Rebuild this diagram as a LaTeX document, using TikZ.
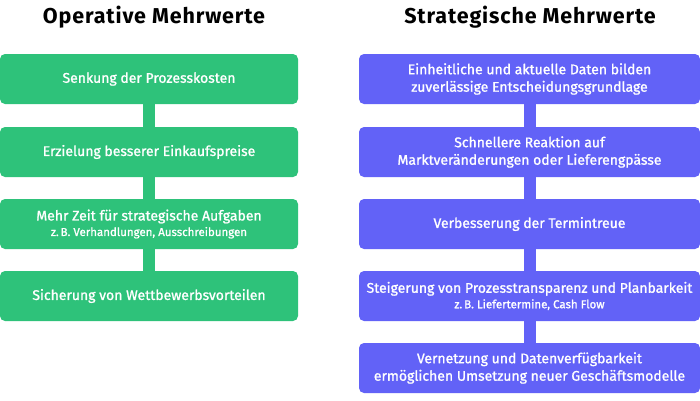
\documentclass[tikz,border=0pt]{standalone}
\usepackage{fontspec}
\setmainfont{Fira Sans}
\newfontfamily\medfont[FakeBold=1.2]{Fira Sans}
\newfontfamily\ttlfont[LetterSpace=4]{Fira Sans}
\begin{document}
\begin{tikzpicture}[x=1pt,y=-1pt,
  gbox/.style={fill=grn,rounded corners=5pt,minimum width=298pt,minimum height=50pt,text=white,align=center,font=\medfont\fontsize{14}{17.5}\selectfont,inner sep=0pt},
  pbox/.style={gbox,fill=prp,minimum width=341pt},
  link/.style={line width=12pt},
  ttl/.style={font=\ttlfont\bfseries\fontsize{21.5}{24}\selectfont}]
\definecolor{grn}{HTML}{2EC27A}
\definecolor{prp}{HTML}{6262F7}
\useasboundingbox (0,0) rectangle (700,400);
\node[ttl] (t1) at (154,17) {Operative Mehrwerte};
\node[ttl] (t2) at (530,17) {Strategische Mehrwerte};
\node[gbox] (g1) at (149,79) {Senkung der Prozesskosten};
\node[gbox] (g2) at (149,152) {Erzielung besserer Einkaufspreise};
\node[gbox] (g3) at (149,224) {Mehr Zeit für strategische Aufgaben\\[-2pt]{\fontsize{11.5}{13}\selectfont z.\,B. Verhandlungen, Ausschreibungen}};
\node[gbox] (g4) at (149,296) {Sicherung von Wettbewerbsvorteilen};
\foreach \a/\b in {g1/g2,g2/g3,g3/g4} \draw[link,grn] (\a.south) -- (\b.north);
\node[pbox] (p1) at (529.5,79) {Einheitliche und aktuelle Daten bilden\\zuverlässige Entscheidungsgrundlage};
\node[pbox] (p2) at (529.5,152) {Schnellere Reaktion auf\\Marktveränderungen oder Lieferengpässe};
\node[pbox] (p3) at (529.5,224) {Verbesserung der Termintreue};
\node[pbox] (p4) at (529.5,296) {Steigerung von Prozesstransparenz und Planbarkeit\\[-2pt]{\fontsize{11.5}{13}\selectfont z.\,B. Liefertermine, Cash Flow}};
\node[pbox] (p5) at (529.5,368) {Vernetzung und Datenverfügbarkeit\\ermöglichen Umsetzung neuer Geschäftsmodelle};
\foreach \a/\b in {p1/p2,p2/p3,p3/p4,p4/p5} \draw[link,prp] (\a.south) -- (\b.north);
\end{tikzpicture}
\end{document}
